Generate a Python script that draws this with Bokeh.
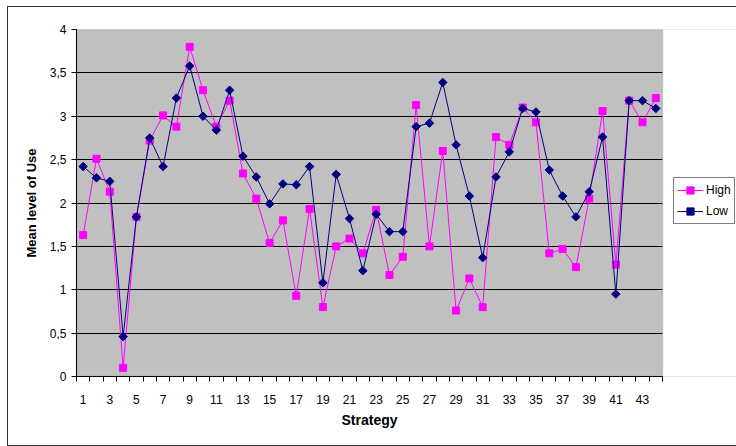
import numpy as np
from bokeh.plotting import figure
from bokeh.models import (ColumnDataSource, FixedTicker, CustomJSTickFormatter,
                          Range1d, Legend, LegendItem, InlineStyleSheet, BoxAnnotation,
                          Title)
from bokeh.embed import file_html
from bokeh.resources import INLINE

# Mean level of use per strategy, for high and low groups
strategy = list(range(1, 45))
high = [1.63, 2.51, 2.13, 0.10, 1.84, 2.72, 3.01, 2.88, 3.80, 3.30, 2.88, 3.18,
        2.34, 2.05, 1.54, 1.80, 0.93, 1.93, 0.80, 1.50, 1.59, 1.42, 1.92, 1.17,
        1.38, 3.13, 1.50, 2.60, 0.76, 1.13, 0.80, 2.76, 2.67, 3.10, 2.93, 1.42,
        1.47, 1.26, 2.05, 3.06, 1.29, 3.18, 2.93, 3.21]
low = [2.42, 2.29, 2.25, 0.46, 1.84, 2.75, 2.42, 3.21, 3.58, 3.00, 2.84, 3.30,
       2.54, 2.30, 1.99, 2.22, 2.21, 2.42, 1.08, 2.33, 1.82, 1.22, 1.87, 1.67,
       1.67, 2.88, 2.92, 3.39, 2.67, 2.08, 1.37, 2.30, 2.59, 3.09, 3.05, 2.38,
       2.08, 1.84, 2.13, 2.76, 0.95, 3.18, 3.18, 3.09]
x_tick_labels = list(range(1, 45, 2))
y_ticks = [0, 0.5, 1, 1.5, 2, 2.5, 3, 3.5, 4]

src = ColumnDataSource(data=dict(strategy=strategy, high=high, low=low))

FONT = "Liberation Sans"

# Layout: the frame runs to the right edge so the legend can sit beside the
# plotting area; the data area itself is 586 px wide.
W, H = 736, 446
LEFT, TOP, BOTTOM = 76, 29, 70
DATA_PX = 586
frame_px = W - LEFT
x0, x1 = 0.5, len(strategy) + 0.5
x_end = x0 + (x1 - x0) * frame_px / DATA_PX

p = figure(width=W, height=H, output_backend="svg", toolbar_location=None,
           x_range=Range1d(x0, x_end), y_range=Range1d(0, 4),
           min_border_left=LEFT, min_border_right=0, min_border_top=TOP,
           min_border_bottom=BOTTOM)

p.background_fill_color = "#C0C0C0"
p.border_fill_color = "white"
p.outline_line_color = None

# horizontal grid
p.xgrid.grid_line_color = None
p.ygrid.ticker = FixedTicker(ticks=y_ticks[1:-1])
p.ygrid.grid_line_color = "black"
p.ygrid.grid_line_width = 1

# white area to the right of the plotting area, and the plot area border
p.add_layout(BoxAnnotation(left=x1, fill_color="white", fill_alpha=1,
                           line_color=None, level="underlay"))
p.add_layout(BoxAnnotation(left=x0, right=x1, bottom=0, top=4, fill_alpha=0,
                           line_color="#808080", line_width=1.5, level="underlay"))

# category axis: labels on every other strategy, ticks between categories
p.xaxis.bounds = (x0, x1)
p.xaxis.ticker = FixedTicker(ticks=x_tick_labels,
                             minor_ticks=[s - 0.5 for s in strategy] + [x1])
p.xaxis.major_tick_line_color = None
p.xaxis.major_tick_out = 0
p.xaxis.major_tick_in = 0
p.xaxis.minor_tick_line_color = "black"
p.xaxis.minor_tick_out = 5
p.xaxis.minor_tick_in = 0
p.xaxis.major_label_standoff = 13

p.yaxis.ticker = FixedTicker(ticks=y_ticks, minor_ticks=[])
p.yaxis.formatter = CustomJSTickFormatter(code="return String(tick).replace('.', ',');")
p.yaxis.major_tick_out = 5
p.yaxis.major_tick_in = 0
p.yaxis.major_label_standoff = 5
p.yaxis.axis_label = "Mean level of Use"
p.yaxis.axis_label_standoff = 8
p.yaxis.axis_label_text_font_size = "13px"

for ax in (p.xaxis, p.yaxis):
    ax.axis_line_color = "black"
    ax.axis_line_width = 1
    ax.major_label_text_font = FONT
    ax.major_label_text_font_size = "12px"
    ax.major_label_text_color = "black"
    ax.axis_label_text_font = FONT
    ax.axis_label_text_font_style = "bold"
    ax.axis_label_text_color = "black"

# x-axis title, centred under the plotting area (not the whole frame)
label_w = 56
p.add_layout(Title(text="Strategy", align="left", vertical_align="top",
                   offset=DATA_PX / 2 - label_w / 2, standoff=10,
                   text_font=FONT, text_font_size="14px", text_font_style="bold",
                   text_color="black"), "below")

# series
hl = p.line("strategy", "high", source=src, line_color="#FF00FF", line_width=1)
hm = p.scatter("strategy", "high", source=src, marker="square", size=7,
               fill_color="#FF00FF", line_color="#FF00FF")
ll = p.line("strategy", "low", source=src, line_color="#000080", line_width=1)
lm = p.scatter("strategy", "low", source=src, marker="square", angle=np.pi / 4, size=6,
               fill_color="#000080", line_color="#000080")

legend = Legend(items=[LegendItem(label="High", renderers=[hl, hm]),
                       LegendItem(label="Low", renderers=[ll, lm])],
                location=(DATA_PX + 11, 152))
legend.border_line_color = "black"
legend.border_line_width = 1
legend.background_fill_color = "white"
legend.background_fill_alpha = 1
legend.label_text_font = FONT
legend.label_text_font_size = "12px"
legend.label_text_color = "black"
legend.glyph_width = 26
legend.glyph_height = 18
legend.label_standoff = 3
legend.padding = 3
legend.spacing = 3
legend.margin = 0
p.add_layout(legend)

# chart area border
p.stylesheets = [InlineStyleSheet(css=(
    ":host::after { content: ''; position: absolute; left: 7px; top: 6px; "
    "width: 760px; height: 440px; border: 1px solid #333; box-sizing: border-box; "
    "pointer-events: none; }"))]

open("out.html", "w").write(file_html(p, INLINE))
